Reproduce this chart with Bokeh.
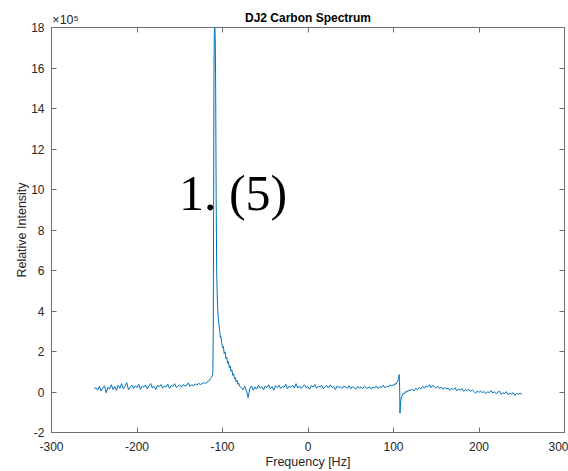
from bokeh.plotting import figure
from bokeh.models import Range1d, FixedTicker, LinearAxis, Label
from bokeh.embed import file_html
from bokeh.resources import INLINE

# ---- data (intensity in units of 1e5) ----
freq_left = [-250, -248, -246, -244, -242, -240, -238, -236, -234, -232, -230, -228, -226, -224,
             -222, -220, -218, -216, -214, -212, -210, -208, -206, -204, -202, -200, -198, -196,
             -194, -192, -190, -188, -186, -184, -182, -180, -178, -176, -174, -172, -170, -168,
             -166, -164, -162, -160, -158, -156, -154, -152, -150, -148, -146, -144, -142, -140,
             -138, -136, -134, -132, -130, -128, -126, -124, -122, -120, -118, -116]
int_left = [0.15, 0.22, 0.10, 0.28, 0.05, 0.19, 0.31, -0.04, 0.24, 0.14, 0.36, 0.12, 0.27, 0.08,
            0.33, 0.18, 0.41, 0.15, 0.29, 0.46, 0.11, 0.25, 0.34, 0.17, 0.30, 0.22, 0.38, 0.13,
            0.29, 0.24, 0.35, 0.16, 0.31, 0.42, 0.20, 0.28, 0.12, 0.33, 0.26, 0.37, 0.19, 0.30,
            0.24, 0.39, 0.18, 0.32, 0.27, 0.41, 0.22, 0.30, 0.35, 0.24, 0.38, 0.29, 0.33, 0.45,
            0.27, 0.36, 0.31, 0.40, 0.34, 0.43, 0.37, 0.41, 0.46, 0.42, 0.50, 0.55]

freq_peak = [-115, -114, -113, -112, -111.3, -110.8, -110.4, -110.0, -109.6, -109.2, -108.8, -108.4,
             -108.0, -107.4, -106.8, -106.2, -105.5, -105.0, -104.5, -104.0, -103.5, -103.0, -102.5,
             -102.0, -101.0, -100.0, -99.0, -98.0, -97.0, -96.0, -95.0, -94.0, -93.0, -92.0, -91.0,
             -90.0, -89.0, -88.0, -87.0, -86.0, -85.0, -84.0, -83.0, -82.0, -81.0, -80.0]
int_peak = [0.58, 0.66, 0.72, 0.80, 0.95, 3.0, 9.0, 15.5, 17.7, 18.0, 17.9, 17.2,
            15.0, 9.5, 6.0, 4.8, 4.0, 3.7, 3.45, 3.3, 3.05, 2.95, 2.7, 2.75, 2.45,
            2.2, 2.25, 1.9, 1.98, 1.65, 1.72, 1.42, 1.5, 1.2, 1.28, 1.02, 1.1, 0.82,
            0.9, 0.66, 0.72, 0.5, 0.58, 0.38, 0.44, 0.28]

freq_mid = [-78, -76, -74, -72, -70, -68, -66, -64, -62, -60, -58, -56, -54, -52, -50, -48, -46,
            -44, -42, -40, -38, -36, -34, -32, -30, -28, -26, -24, -22, -20, -18, -16, -14, -12,
            -10, -8, -6, -4, -2, 0, 2, 4, 6, 8, 10, 12, 14, 16, 18, 20, 22, 24, 26, 28, 30, 32, 34,
            36, 38, 40, 42, 44, 46, 48, 50, 52, 54, 56, 58, 60, 62, 64, 66, 68, 70, 72, 74, 76, 78,
            80, 82, 84, 86, 88, 90, 92, 94, 96, 98, 100]
int_mid = [0.22, 0.10, 0.28, 0.05, -0.28, 0.18, 0.30, 0.08, 0.25, 0.14, 0.33, 0.19, 0.27, 0.11,
           0.29, 0.21, 0.36, 0.16, 0.26, 0.09, 0.31, 0.22, 0.34, 0.18, 0.27, 0.23, 0.38, 0.15,
           0.29, 0.24, 0.33, 0.19, 0.41, 0.20, 0.30, 0.17, 0.28, 0.35, 0.21, 0.26, 0.14, 0.32,
           0.24, 0.37, 0.18, 0.29, 0.25, 0.34, 0.16, 0.27, 0.31, 0.20, 0.35, 0.23, 0.28, 0.12,
           0.30, 0.22, 0.26, 0.17, 0.29, 0.24, 0.19, 0.31, 0.15, 0.26, 0.22, 0.13, 0.28, 0.20,
           0.25, 0.16, 0.29, 0.21, 0.18, 0.27, 0.14, 0.24, 0.20, 0.30, 0.17, 0.26, 0.22, 0.33,
           0.21, 0.28, 0.25, 0.35, 0.30, 0.36]

freq_disp = [101, 102, 103, 104, 105, 106, 106.6, 107.2, 107.6, 108, 108.5, 109, 110, 111, 112,
             113, 114, 115, 116, 117, 118]
int_disp = [0.33, 0.42, 0.38, 0.48, 0.55, 0.66, 0.86, 0.2, -1.05, -0.7, -0.45, -0.3, -0.2, -0.1,
            -0.05, -0.08, 0.02, -0.02, 0.06, 0.03, 0.10]

freq_right = [120, 122, 124, 126, 128, 130, 132, 134, 136, 138, 140, 142, 144, 146, 148, 150, 152,
              154, 156, 158, 160, 162, 164, 166, 168, 170, 172, 174, 176, 178, 180, 182, 184, 186,
              188, 190, 192, 194, 196, 198, 200, 202, 204, 206, 208, 210, 212, 214, 216, 218, 220,
              222, 224, 226, 228, 230, 232, 234, 236, 238, 240, 242, 244, 246, 248, 250]
int_right = [0.08, 0.14, 0.05, 0.18, 0.12, 0.22, 0.15, 0.27, 0.19, 0.31, 0.24, 0.36, 0.21, 0.33,
             0.26, 0.20, 0.29, 0.17, 0.24, 0.13, 0.22, 0.15, 0.19, 0.08, 0.18, 0.12, 0.21, 0.06,
             0.15, 0.09, 0.17, 0.04, 0.12, 0.07, 0.14, 0.02, 0.10, 0.03, -0.06, 0.05, -0.02, 0.06,
             -0.04, 0.03, -0.08, 0.01, -0.03, 0.07, -0.06, 0.02, -0.09, -0.01, 0.04, -0.12, -0.04,
             -0.08, 0.02, -0.14, -0.05, -0.10, -0.03, -0.16, -0.07, -0.11, -0.05, -0.12]

x_ticks = [-300, -200, -100, 0, 100, 200, 300]
y_ticks = [-2, 0, 2, 4, 6, 8, 10, 12, 14, 16, 18]
title_text = "DJ2 Carbon Spectrum"
exponent_text = "\u00d710\u2075"
exponent_at = -283.6          # x position (Hz) of the centre of the x10^5 factor text
note_text = "1. (5)"

freq = freq_left + freq_peak + freq_mid + freq_disp + freq_right
intensity = int_left + int_peak + int_mid + int_disp + int_right

AX = "#6e6e6e"
TXT = "#262626"
FONT = "Liberation Sans"

p = figure(width=568, height=471, x_range=Range1d(-300, 300), y_range=Range1d(-2, 18),
           output_backend="svg", toolbar_location=None,
           min_border_left=51, min_border_right=4, min_border_top=27, min_border_bottom=39)

p.grid.visible = False
p.outline_line_color = AX
p.outline_line_width = 1
p.background_fill_color = "white"
p.border_fill_color = "white"

p.line(freq, intensity, line_color="#0072BD", line_width=1)

def style(ax, ticks, show_labels):
    ax.ticker = FixedTicker(ticks=ticks)
    ax.axis_line_color = None
    ax.major_tick_line_color = AX
    ax.major_tick_in = 5
    ax.major_tick_out = 0
    ax.minor_tick_line_color = None
    ax.major_label_text_font = FONT
    ax.major_label_text_color = TXT
    if show_labels:
        ax.major_label_text_font_size = "12px"
        ax.major_label_overrides = {t: str(t) for t in ticks}
    else:
        ax.major_label_text_font_size = "1px"
        ax.major_label_text_color = None
        ax.major_label_text_alpha = 0
        ax.major_label_standoff = 0

style(p.xaxis[0], x_ticks, True)
style(p.yaxis[0], y_ticks, True)
p.xaxis[0].major_label_standoff = 9
p.yaxis[0].major_label_standoff = 7
p.xaxis[0].axis_label = "Frequency [Hz]"
p.yaxis[0].axis_label = "Relative Intensity"
for ax in (p.xaxis[0], p.yaxis[0]):
    ax.axis_label_text_font = FONT
    ax.axis_label_text_font_size = "12.5px"
    ax.axis_label_text_font_style = "normal"
    ax.axis_label_text_color = TXT
p.xaxis[0].axis_label_standoff = 1
p.yaxis[0].axis_label_standoff = -1

# top axis: tick marks (minor ticks at the x tick positions), the x10^5 factor and the title
top = LinearAxis(ticker=FixedTicker(ticks=[exponent_at], minor_ticks=x_ticks),
                 major_label_overrides={exponent_at: exponent_text})
top.axis_line_color = None
top.major_tick_line_color = None
top.major_tick_in = 0
top.major_tick_out = 0
top.minor_tick_line_color = AX
top.minor_tick_in = 5
top.minor_tick_out = 0
top.major_label_text_font = FONT
top.major_label_text_font_size = "12.5px"
top.major_label_text_font_style = "normal"
top.major_label_text_color = TXT
top.major_label_standoff = 1
top.axis_label = title_text
top.axis_label_text_font = FONT
top.axis_label_text_font_size = "12px"
top.axis_label_text_font_style = "bold"
top.axis_label_text_color = "#000000"
top.axis_label_standoff = -15
p.add_layout(top, "above")

right = LinearAxis()
style(right, y_ticks, False)
p.add_layout(right, "right")

p.add_layout(Label(x=-151, y=9.82, text=note_text, text_font="Liberation Serif",
                   text_font_size="50px", text_color="#000000", text_baseline="alphabetic"))

open("out.html", "w").write(file_html(p, INLINE))
